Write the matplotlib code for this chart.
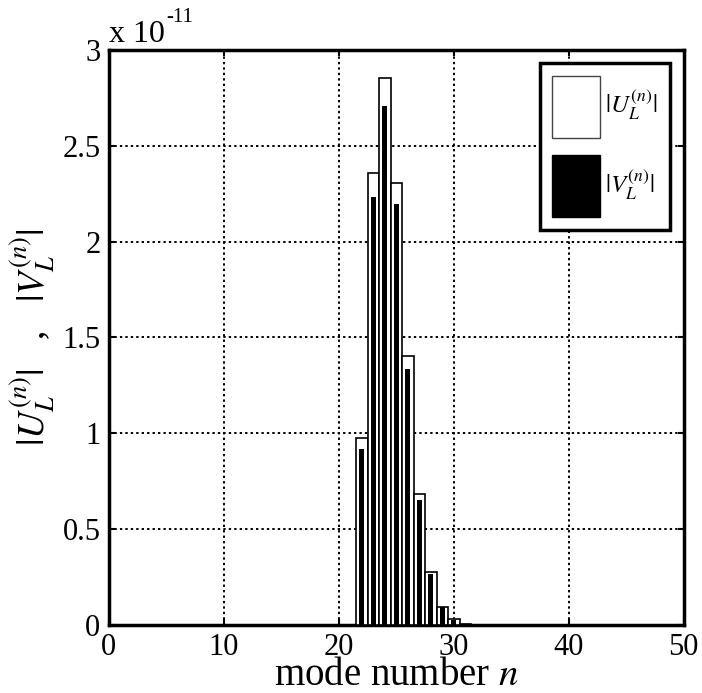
import matplotlib
matplotlib.use("Agg")
import matplotlib.pyplot as plt
from matplotlib.patches import Patch

plt.rcParams["font.family"] = ["Liberation Serif", "DejaVu Serif"]
plt.rcParams["mathtext.fontset"] = "stix"

# mode numbers and amplitudes (in units of 1e-11)
modes = [22, 23, 24, 25, 26, 27, 28, 29, 30, 31]
u_amp = [0.976, 2.356, 2.854, 2.306, 1.401, 0.682, 0.278, 0.095, 0.030, 0.006]
v_amp = [0.920, 2.231, 2.708, 2.196, 1.335, 0.655, 0.266, 0.092, 0.026, 0.005]
x_ticks = [0, 10, 20, 30, 40, 50]
y_ticks = [0, 0.5, 1, 1.5, 2, 2.5, 3]
y_ticklabels = ["0", "0.5", "1", "1.5", "2", "2.5", "3"]

fig = plt.figure(figsize=(7.02, 6.93), dpi=100)
ax = fig.add_axes([0.155, 0.098, 0.819, 0.830])

ax.bar(modes, u_amp, width=1.0, color="white", edgecolor="black",
       linewidth=1.2, zorder=3)
ax.bar(modes, v_amp, width=0.45, color="black", edgecolor="black",
       linewidth=0, zorder=4)

ax.set_xlim(0, 50)
ax.set_ylim(0, 3)
ax.set_xticks(x_ticks)
ax.set_yticks(y_ticks)
ax.set_yticklabels(y_ticklabels)
ax.tick_params(direction="in", length=4, width=1.5, labelsize=22,
               top=True, right=True)
ax.tick_params(axis="x", pad=6)
ax.tick_params(axis="y", pad=6)
ax.grid(True, color="black", linestyle=(0, (1.2, 1.6)), linewidth=1.4,
        zorder=1)
for s in ax.spines.values():
    s.set_linewidth(2.5)

ax.set_xlabel(r"mode number $n$", fontsize=28)
ax.xaxis.label.set_va("baseline")
ax.xaxis.set_label_coords(0.5, -0.1045)
ax.set_ylabel(r"$|U_L^{(n)}|$   ,   $|V_L^{(n)}|$", fontsize=27, labelpad=4)

# axis multiplier
ax.annotate("x 10", xy=(0, 1), xycoords="axes fraction",
            xytext=(0, 6), textcoords="offset points",
            fontsize=23, ha="left", va="baseline")
ax.annotate("-11", xy=(0, 1), xycoords="axes fraction",
            xytext=(41, 20), textcoords="offset points",
            fontsize=15, ha="left", va="baseline")

handles = [Patch(facecolor="white", edgecolor="#444444", linewidth=1.0),
           Patch(facecolor="black", edgecolor="black")]
leg = ax.legend(handles, [r"$|U_L^{(n)}|$", r"$|V_L^{(n)}|$"],
                loc="upper right", bbox_to_anchor=(0.976, 0.977),
                fontsize=18, handlelength=1.92, handleheight=3.45,
                labelspacing=0.68, handletextpad=0.2, borderpad=0.5,
                borderaxespad=0.0, fancybox=False, framealpha=1.0)
leg.get_frame().set_edgecolor("black")
leg.get_frame().set_linewidth(2.5)
leg.set_zorder(10)

fig.savefig("out.png", dpi=100, facecolor="white")
